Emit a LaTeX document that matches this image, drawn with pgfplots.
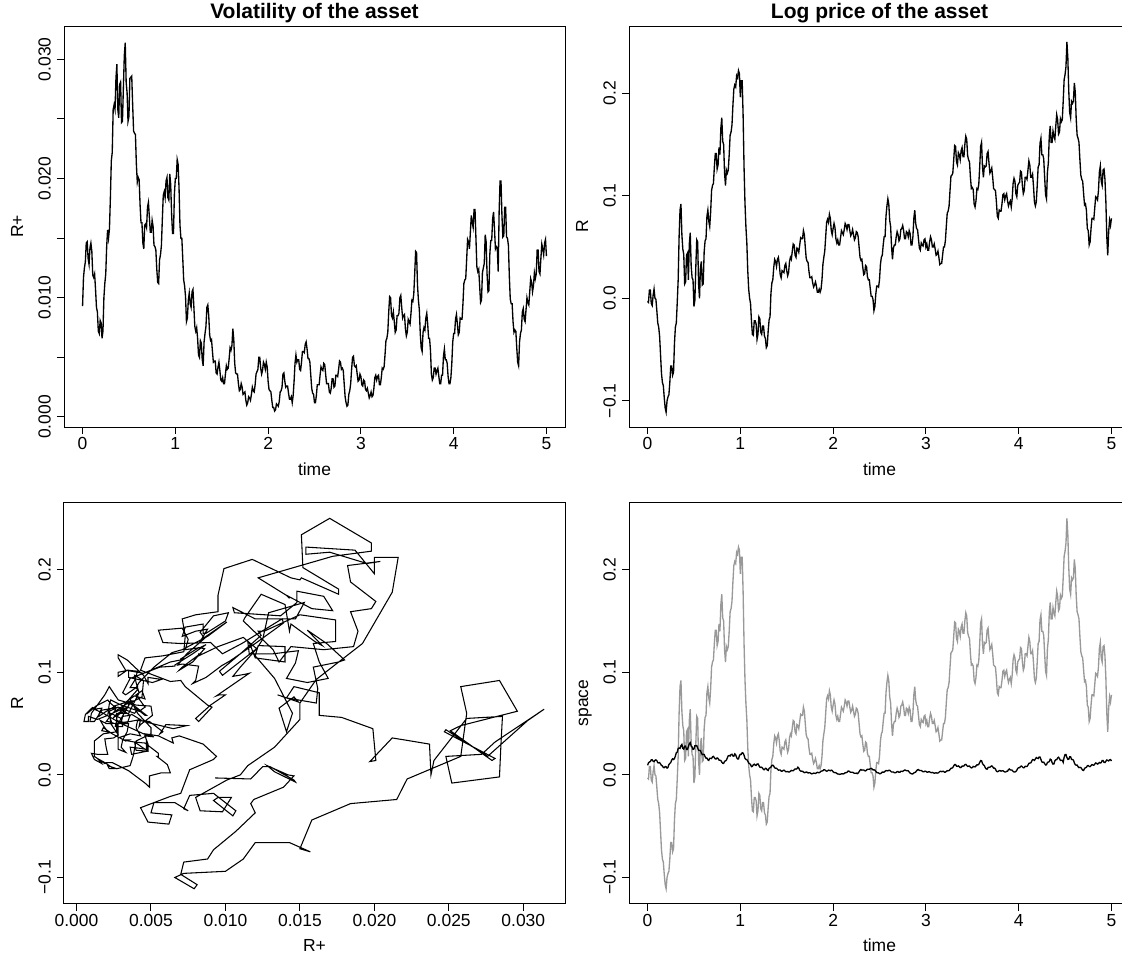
\documentclass[border=0pt]{standalone}
\usepackage{fontspec}
\setmainfont{Liberation Sans}
\usepackage{pgfplots}
\pgfplotsset{compat=1.18}
\usepackage{pgfplotstable}

\pgfplotstableread{
t v p
0.00 0.0093 -0.003
0.01 0.0117 -0.004
0.02 0.0125 0.008
0.03 0.0130 0.008
0.04 0.0146 -0.005
0.05 0.0147 -0.007
0.06 0.0133 0.003
0.07 0.0128 0.009
0.08 0.0142 0.000
0.09 0.0146 -0.001
0.10 0.0139 -0.012
0.11 0.0119 -0.024
0.12 0.0117 -0.028
0.13 0.0120 -0.037
0.14 0.0107 -0.055
0.15 0.0092 -0.073
0.16 0.0088 -0.082
0.17 0.0072 -0.085
0.18 0.0070 -0.097
0.19 0.0081 -0.107
0.20 0.0079 -0.111
0.21 0.0066 -0.100
0.22 0.0072 -0.096
0.23 0.0100 -0.094
0.24 0.0112 -0.082
0.25 0.0120 -0.066
0.26 0.0143 -0.066
0.27 0.0157 -0.075
0.28 0.0150 -0.072
0.29 0.0158 -0.044
0.30 0.0184 -0.028
0.31 0.0215 -0.024
0.32 0.0222 -0.004
0.33 0.0258 0.018
0.34 0.0262 0.060
0.35 0.0258 0.086
0.36 0.0284 0.092
0.37 0.0296 0.062
0.38 0.0258 0.048
0.39 0.0251 0.043
0.40 0.0279 0.014
0.41 0.0281 0.016
0.42 0.0247 0.042
0.43 0.0248 0.044
0.44 0.0276 0.018
0.45 0.0303 0.053
0.46 0.0314 0.064
0.47 0.0281 0.032
0.48 0.0272 0.020
0.49 0.0248 0.018
0.50 0.0252 -0.008
0.51 0.0284 -0.002
0.52 0.0285 0.030
0.53 0.0286 0.057
0.54 0.0262 0.055
0.55 0.0240 0.014
0.56 0.0238 0.000
0.57 0.0237 0.030
0.58 0.0212 0.036
0.59 0.0197 0.013
0.60 0.0201 0.014
0.61 0.0199 0.045
0.62 0.0178 0.056
0.63 0.0163 0.058
0.64 0.0163 0.080
0.65 0.0146 0.086
0.66 0.0141 0.075
0.67 0.0161 0.070
0.68 0.0162 0.084
0.69 0.0159 0.105
0.70 0.0176 0.110
0.71 0.0180 0.112
0.72 0.0168 0.128
0.73 0.0155 0.141
0.74 0.0155 0.141
0.75 0.0165 0.126
0.76 0.0160 0.130
0.77 0.0144 0.147
0.78 0.0143 0.140
0.79 0.0140 0.166
0.80 0.0124 0.176
0.81 0.0113 0.153
0.82 0.0112 0.150
0.83 0.0132 0.122
0.84 0.0136 0.110
0.85 0.0144 0.125
0.86 0.0166 0.122
0.87 0.0186 0.125
0.88 0.0189 0.140
0.89 0.0184 0.159
0.90 0.0198 0.162
0.91 0.0201 0.169
0.92 0.0184 0.188
0.93 0.0182 0.204
0.94 0.0204 0.208
0.95 0.0195 0.206
0.96 0.0170 0.217
0.97 0.0154 0.215
0.98 0.0154 0.222
0.99 0.0187 0.219
1.00 0.0200 0.196
1.01 0.0200 0.212
1.02 0.0216 0.212
1.03 0.0212 0.178
1.04 0.0192 0.128
1.05 0.0161 0.093
1.06 0.0150 0.070
1.07 0.0150 0.054
1.08 0.0133 0.027
1.09 0.0115 0.009
1.10 0.0110 0.000
1.11 0.0101 -0.005
1.12 0.0080 -0.022
1.13 0.0083 -0.035
1.14 0.0098 -0.036
1.15 0.0104 -0.022
1.16 0.0095 -0.022
1.17 0.0092 -0.025
1.18 0.0105 -0.040
1.19 0.0107 -0.035
1.20 0.0092 -0.018
1.21 0.0076 -0.020
1.22 0.0072 -0.033
1.23 0.0075 -0.035
1.24 0.0066 -0.027
1.25 0.0052 -0.027
1.26 0.0050 -0.037
1.27 0.0064 -0.039
1.28 0.0062 -0.048
1.29 0.0048 -0.046
1.30 0.0043 -0.032
1.31 0.0063 -0.021
1.32 0.0070 -0.018
1.33 0.0076 0.005
1.34 0.0092 0.015
1.35 0.0094 0.018
1.36 0.0085 0.030
1.37 0.0069 0.038
1.38 0.0064 0.036
1.39 0.0065 0.031
1.40 0.0055 0.038
1.41 0.0046 0.040
1.42 0.0047 0.033
1.43 0.0047 0.023
1.44 0.0037 0.020
1.45 0.0036 0.027
1.46 0.0042 0.026
1.47 0.0046 0.025
1.48 0.0039 0.032
1.49 0.0031 0.034
1.50 0.0030 0.027
1.51 0.0033 0.022
1.52 0.0028 0.025
1.53 0.0028 0.036
1.54 0.0036 0.040
1.55 0.0043 0.038
1.56 0.0040 0.046
1.57 0.0041 0.053
1.58 0.0049 0.052
1.59 0.0058 0.042
1.60 0.0056 0.040
1.61 0.0060 0.049
1.62 0.0074 0.048
1.63 0.0065 0.045
1.64 0.0045 0.052
1.65 0.0037 0.059
1.66 0.0036 0.058
1.67 0.0036 0.058
1.68 0.0028 0.066
1.69 0.0022 0.062
1.70 0.0023 0.050
1.71 0.0028 0.039
1.72 0.0025 0.036
1.73 0.0019 0.035
1.74 0.0020 0.026
1.75 0.0021 0.020
1.76 0.0014 0.020
1.77 0.0010 0.021
1.78 0.0012 0.015
1.79 0.0017 0.011
1.80 0.0016 0.013
1.81 0.0014 0.016
1.82 0.0019 0.012
1.83 0.0025 0.006
1.84 0.0022 0.006
1.85 0.0021 0.009
1.86 0.0027 0.006
1.87 0.0036 0.009
1.88 0.0038 0.018
1.89 0.0040 0.033
1.90 0.0050 0.040
1.91 0.0050 0.046
1.92 0.0041 0.060
1.93 0.0036 0.074
1.94 0.0039 0.077
1.95 0.0046 0.074
1.96 0.0044 0.082
1.97 0.0040 0.078
1.98 0.0046 0.066
1.99 0.0042 0.062
2.00 0.0030 0.068
2.01 0.0023 0.073
2.02 0.0022 0.069
2.03 0.0021 0.058
2.04 0.0014 0.054
2.05 0.0008 0.057
2.06 0.0008 0.052
2.07 0.0005 0.052
2.08 0.0006 0.059
2.09 0.0011 0.066
2.10 0.0010 0.064
2.11 0.0009 0.062
2.12 0.0013 0.067
2.13 0.0021 0.073
2.14 0.0022 0.071
2.15 0.0025 0.067
2.16 0.0036 0.072
2.17 0.0037 0.072
2.18 0.0030 0.066
2.19 0.0025 0.061
2.20 0.0026 0.063
2.21 0.0026 0.067
2.22 0.0020 0.062
2.23 0.0015 0.057
2.24 0.0015 0.059
2.25 0.0017 0.065
2.26 0.0012 0.064
2.27 0.0018 0.060
2.28 0.0030 0.050
2.29 0.0045 0.040
2.30 0.0052 0.037
2.31 0.0046 0.038
2.32 0.0048 0.030
2.33 0.0048 0.023
2.34 0.0040 0.024
2.35 0.0039 0.032
2.36 0.0046 0.031
2.37 0.0055 0.021
2.38 0.0055 0.018
2.39 0.0054 0.018
2.40 0.0061 0.010
2.41 0.0063 0.002
2.42 0.0057 0.002
2.43 0.0049 -0.001
2.44 0.0049 -0.012
2.45 0.0046 -0.008
2.46 0.0035 0.004
2.47 0.0024 0.012
2.48 0.0020 0.012
2.49 0.0019 0.011
2.50 0.0012 0.018
2.51 0.0012 0.033
2.52 0.0018 0.040
2.53 0.0027 0.042
2.54 0.0027 0.052
2.55 0.0027 0.060
2.56 0.0035 0.060
2.57 0.0042 0.080
2.58 0.0040 0.090
2.59 0.0039 0.097
2.60 0.0045 0.092
2.61 0.0044 0.076
2.62 0.0036 0.070
2.63 0.0028 0.050
2.64 0.0028 0.038
2.65 0.0028 0.049
2.66 0.0021 0.052
2.67 0.0020 0.052
2.68 0.0024 0.060
2.69 0.0032 0.065
2.70 0.0032 0.062
2.71 0.0025 0.056
2.72 0.0026 0.058
2.73 0.0035 0.067
2.74 0.0035 0.068
2.75 0.0034 0.071
2.76 0.0040 0.066
2.77 0.0047 0.058
2.78 0.0046 0.058
2.79 0.0040 0.065
2.80 0.0041 0.064
2.81 0.0039 0.060
2.82 0.0028 0.066
2.83 0.0017 0.063
2.84 0.0012 0.052
2.85 0.0009 0.052
2.86 0.0010 0.060
2.87 0.0019 0.078
2.88 0.0022 0.086
2.89 0.0028 0.073
2.90 0.0040 0.068
2.91 0.0050 0.067
2.92 0.0051 0.058
2.93 0.0043 0.049
2.94 0.0042 0.047
2.95 0.0043 0.054
2.96 0.0036 0.052
2.97 0.0030 0.051
2.98 0.0031 0.057
2.99 0.0036 0.058
3.00 0.0034 0.050
3.01 0.0027 0.053
3.02 0.0026 0.047
3.03 0.0031 0.047
3.04 0.0030 0.055
3.05 0.0023 0.060
3.06 0.0022 0.057
3.07 0.0024 0.050
3.08 0.0020 0.050
3.09 0.0016 0.053
3.10 0.0018 0.048
3.11 0.0021 0.042
3.12 0.0017 0.043
3.13 0.0018 0.046
3.14 0.0024 0.040
3.15 0.0033 0.033
3.16 0.0035 0.034
3.17 0.0031 0.034
3.18 0.0034 0.042
3.19 0.0035 0.050
3.20 0.0027 0.050
3.21 0.0027 0.056
3.22 0.0033 0.070
3.23 0.0041 0.083
3.24 0.0040 0.085
3.25 0.0042 0.090
3.26 0.0052 0.105
3.27 0.0064 0.119
3.28 0.0066 0.120
3.29 0.0071 0.122
3.30 0.0088 0.135
3.31 0.0101 0.149
3.32 0.0100 0.148
3.33 0.0085 0.133
3.34 0.0083 0.130
3.35 0.0088 0.142
3.36 0.0080 0.140
3.37 0.0071 0.135
3.38 0.0073 0.144
3.39 0.0085 0.147
3.40 0.0085 0.138
3.41 0.0087 0.138
3.42 0.0100 0.150
3.43 0.0102 0.158
3.44 0.0092 0.155
3.45 0.0083 0.139
3.46 0.0085 0.135
3.47 0.0086 0.133
3.48 0.0074 0.118
3.49 0.0068 0.107
3.50 0.0071 0.108
3.51 0.0082 0.106
3.52 0.0080 0.092
3.53 0.0078 0.089
3.54 0.0087 0.095
3.55 0.0098 0.107
3.56 0.0097 0.106
3.57 0.0103 0.111
3.58 0.0120 0.128
3.59 0.0139 0.148
3.60 0.0138 0.152
3.61 0.0111 0.128
3.62 0.0098 0.118
3.63 0.0090 0.129
3.64 0.0070 0.128
3.65 0.0058 0.129
3.66 0.0055 0.141
3.67 0.0071 0.143
3.68 0.0075 0.132
3.69 0.0073 0.122
3.70 0.0083 0.124
3.71 0.0087 0.127
3.72 0.0078 0.118
3.73 0.0066 0.107
3.74 0.0066 0.106
3.75 0.0056 0.105
3.76 0.0036 0.094
3.77 0.0031 0.080
3.78 0.0033 0.078
3.79 0.0041 0.086
3.80 0.0041 0.085
3.81 0.0036 0.085
3.82 0.0039 0.092
3.83 0.0041 0.101
3.84 0.0034 0.102
3.85 0.0028 0.096
3.86 0.0028 0.100
3.87 0.0035 0.102
3.88 0.0035 0.095
3.89 0.0051 0.090
3.90 0.0057 0.093
3.91 0.0048 0.095
3.92 0.0048 0.089
3.93 0.0045 0.097
3.94 0.0034 0.112
3.95 0.0028 0.117
3.96 0.0028 0.114
3.97 0.0033 0.102
3.98 0.0045 0.099
3.99 0.0063 0.110
4.00 0.0070 0.112
4.01 0.0070 0.113
4.02 0.0082 0.124
4.03 0.0086 0.123
4.04 0.0078 0.110
4.05 0.0069 0.102
4.06 0.0071 0.105
4.07 0.0083 0.118
4.08 0.0082 0.118
4.09 0.0082 0.116
4.10 0.0095 0.125
4.11 0.0112 0.134
4.12 0.0115 0.130
4.13 0.0116 0.118
4.14 0.0132 0.118
4.15 0.0149 0.121
4.16 0.0147 0.109
4.17 0.0141 0.094
4.18 0.0155 0.090
4.19 0.0169 0.094
4.20 0.0163 0.110
4.21 0.0159 0.128
4.22 0.0174 0.130
4.23 0.0174 0.151
4.24 0.0150 0.156
4.25 0.0126 0.140
4.26 0.0122 0.140
4.27 0.0124 0.136
4.28 0.0110 0.118
4.29 0.0096 0.101
4.30 0.0098 0.097
4.31 0.0121 0.123
4.32 0.0125 0.132
4.33 0.0129 0.158
4.34 0.0153 0.168
4.35 0.0147 0.152
4.36 0.0120 0.152
4.37 0.0105 0.163
4.38 0.0106 0.158
4.39 0.0137 0.155
4.40 0.0148 0.168
4.41 0.0148 0.179
4.42 0.0166 0.174
4.43 0.0172 0.160
4.44 0.0158 0.162
4.45 0.0141 0.175
4.46 0.0143 0.172
4.47 0.0142 0.174
4.48 0.0122 0.192
4.49 0.0172 0.213
4.50 0.0198 0.218
4.51 0.0198 0.226
4.52 0.0170 0.250
4.53 0.0151 0.234
4.54 0.0152 0.202
4.55 0.0176 0.181
4.56 0.0176 0.176
4.57 0.0151 0.192
4.58 0.0150 0.190
4.59 0.0144 0.192
4.60 0.0118 0.210
4.61 0.0099 0.201
4.62 0.0095 0.175
4.63 0.0095 0.159
4.64 0.0080 0.156
4.65 0.0071 0.152
4.66 0.0073 0.135
4.67 0.0072 0.120
4.68 0.0058 0.116
4.69 0.0046 0.114
4.70 0.0043 0.102
4.71 0.0063 0.091
4.72 0.0070 0.092
4.73 0.0073 0.086
4.74 0.0088 0.068
4.75 0.0091 0.066
4.76 0.0082 0.052
4.77 0.0080 0.055
4.78 0.0090 0.068
4.79 0.0100 0.078
4.80 0.0096 0.078
4.81 0.0094 0.077
4.82 0.0105 0.088
4.83 0.0116 0.099
4.84 0.0113 0.098
4.85 0.0105 0.096
4.86 0.0110 0.105
4.87 0.0121 0.123
4.88 0.0116 0.129
4.89 0.0120 0.114
4.90 0.0140 0.110
4.91 0.0140 0.125
4.92 0.0122 0.126
4.93 0.0120 0.116
4.94 0.0133 0.094
4.95 0.0145 0.060
4.96 0.0141 0.042
4.97 0.0136 0.065
4.98 0.0146 0.076
4.99 0.0149 0.071
5.00 0.0135 0.078
}\data

\definecolor{rgray}{RGB}{153,153,153}

\pgfplotsset{
  every axis title shift=0pt,
  rbase/.style={
    scale only axis, width=375.75pt, height=300.75pt,
    axis line style={line width=0.75pt, black},
    every tick/.style={line width=0.75pt, black},
    tick align=outside, major tick length=5.25pt,
    xtick pos=bottom, ytick pos=left,
    scaled ticks=false,
    /pgf/number format/assume math mode=true,
    tick label style={font=\fontsize{13.1}{15}\selectfont},
    label style={font=\fontsize{13.1}{15}\selectfont},
    xticklabel style={anchor=north, inner sep=0pt},
    xticklabel shift=2.6pt,
    yticklabel style={rotate=90, anchor=south, inner sep=0pt},
    yticklabel shift=4.5pt,
    xlabel style={at={(axis description cs:0.5,-0.1197)}, anchor=base, inner sep=0pt},
    ylabel style={at={(axis description cs:-0.0818,0.5)}, rotate=0, anchor=base, inner sep=0pt},
    title style={at={(axis description cs:0.5,1)}, anchor=base, yshift=6pt, inner sep=0pt,
      font=\bfseries\fontsize{15.75}{18}\selectfont},
    clip=true,
  },
  timex/.style={xmin=-0.2, xmax=5.2, xtick={0,1,2,3,4,5}, xticklabels={0,1,2,3,4,5}},
  logy/.style={ymin=-0.1254, ymax=0.2654, ytick={-0.1,0,0.1,0.2},
    yticklabels={−0.1,0.0,0.1,0.2}},
}

\begin{document}
\begin{tikzpicture}
\begin{axis}[rbase, timex, at={(48pt,-19.5pt)}, anchor=north west,
  ymin=-0.00084, ymax=0.0328,
  ytick={0,0.005,0.01,0.015,0.02,0.025,0.03},
  yticklabels={0.000,,0.010,,0.020,,0.030},
  title={Volatility of the asset}, xlabel={time}, ylabel={R+}]
\addplot[black, line width=1pt, mark=none] table[x=t,y=v]{\data};
\end{axis}

\begin{axis}[rbase, timex, logy, at={(471.75pt,-19.5pt)}, anchor=north west,
  title={Log price of the asset}, xlabel={time}, ylabel={R}]
\addplot[black, line width=1pt, mark=none] table[x=t,y=p]{\data};
\end{axis}

\begin{axis}[rbase, logy, at={(48pt,-376.9pt)}, anchor=north west,
  xmin=-0.00084, xmax=0.0328,
  xtick={0,0.005,0.01,0.015,0.02,0.025,0.03},
  xticklabels={0.000,0.005,0.010,0.015,0.020,0.025,0.030},
  xlabel={R+}, ylabel={R}]
\addplot[black, line width=0.8pt, mark=none] table[x=v,y=p]{\data};
\end{axis}

\begin{axis}[rbase, timex, logy, at={(471.75pt,-376.9pt)}, anchor=north west,
  xlabel={time}, ylabel={space}]
\addplot[rgray, line width=1pt, mark=none] table[x=t,y=p]{\data};
\addplot[black, line width=1pt, mark=none] table[x=t,y=v]{\data};
\end{axis}

\pgfresetboundingbox
\path[use as bounding box] (0pt,0pt) rectangle (841.5pt,-714.75pt);
\end{tikzpicture}
\end{document}
